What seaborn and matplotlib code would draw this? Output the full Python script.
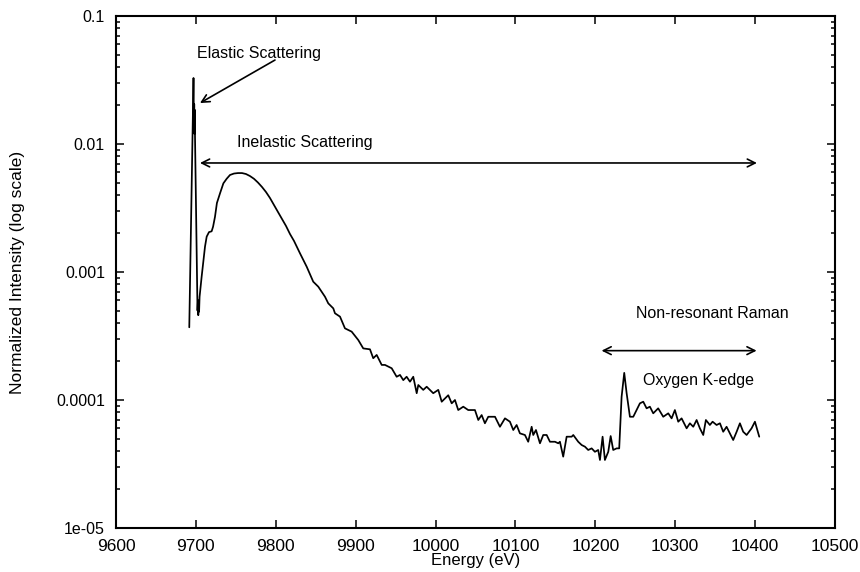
import matplotlib
matplotlib.use("Agg")
import matplotlib.pyplot as plt
import matplotlib.ticker as mticker
import numpy as np
import pandas as pd
import seaborn as sns

# Emission spectrum: energy (eV) and normalized intensity
energy = [
    9691.7, 9697.0, 9697.3, 9697.6, 9697.9, 9698.2, 9698.5, 9698.8,
    9702.0, 9702.5, 9703.0, 9703.5, 9704.0, 9704.6,
    9707.2, 9711.4, 9713.5, 9716.4, 9719.7, 9721.5, 9723.9, 9726.3,
    9730.2, 9734.4, 9738.5, 9742.7, 9747.7, 9752.7, 9757.7, 9762.7,
    9767.7, 9772.7, 9777.7, 9782.7, 9787.7, 9792.7, 9797.8, 9802.8,
    9807.8, 9812.8, 9817.8, 9822.8, 9827.8,
    9830.3, 9838.7, 9846.9, 9853.2, 9861.6, 9865.7, 9872.0, 9874.1,
    9880.4, 9886.6, 9895.0, 9903.3, 9909.5, 9917.9, 9922.0, 9926.3,
    9932.6, 9936.7, 9945.1, 9951.3, 9955.5, 9959.6, 9963.8, 9968.0,
    9972.1, 9976.4, 9978.4, 9984.6, 9988.9, 9997.1, 10003.4, 10007.7,
    10015.9, 10020.2, 10024.3, 10028.4, 10034.7, 10040.9, 10049.3, 10053.5,
    10057.7, 10061.8, 10066.0, 10074.4, 10080.6, 10086.9, 10093.1, 10097.3,
    10101.5, 10105.6, 10111.9, 10116.0, 10120.3, 10122.3, 10125.7, 10130.7,
    10134.8, 10139.1, 10143.2, 10149.5, 10153.6, 10155.7, 10159.8, 10164.1,
    10170.4, 10172.4, 10178.6, 10182.9, 10187.0, 10191.1, 10195.4, 10199.5,
    10203.6, 10205.8, 10209.1, 10212.0, 10216.2, 10219.2, 10222.4, 10226.7,
    10229.9, 10232.9, 10236.2, 10239.2, 10243.3, 10247.5, 10251.7, 10255.8,
    10260.0, 10264.2, 10268.3, 10272.5, 10278.7, 10285.0, 10291.3, 10295.5,
    10299.6, 10303.8, 10308.0, 10314.3, 10318.4, 10322.6, 10326.8, 10330.9,
    10335.1, 10338.4, 10343.4, 10346.8, 10351.8, 10356.0, 10360.1, 10364.3,
    10368.5, 10372.6, 10376.9, 10381.0, 10385.1, 10389.4, 10395.6, 10399.8,
    10405.2,
]
intensity = [
    3.70e-4, 3.28e-2, 1.95e-2, 1.30e-2, 2.05e-2, 1.20e-2, 1.85e-2, 1.25e-2,
    5.00e-4, 5.90e-4, 4.60e-4, 6.00e-4, 4.90e-4, 6.40e-4,
    9.20e-4, 1.58e-3, 1.89e-3, 2.05e-3, 2.08e-3, 2.26e-3, 2.70e-3, 3.46e-3,
    4.12e-3, 4.93e-3, 5.35e-3, 5.73e-3, 5.88e-3, 5.93e-3, 5.93e-3, 5.83e-3,
    5.62e-3, 5.35e-3, 5.00e-3, 4.62e-3, 4.22e-3, 3.79e-3, 3.34e-3, 2.94e-3,
    2.59e-3, 2.29e-3, 1.98e-3, 1.75e-3, 1.51e-3,
    1.40e-3, 1.10e-3, 8.40e-4, 7.68e-4, 6.41e-4, 5.69e-4, 5.20e-4, 4.76e-4,
    4.48e-4, 3.63e-4, 3.42e-4, 2.94e-4, 2.53e-4, 2.49e-4, 2.12e-4, 2.25e-4,
    1.88e-4, 1.88e-4, 1.77e-4, 1.52e-4, 1.57e-4, 1.43e-4, 1.52e-4, 1.39e-4,
    1.52e-4, 1.13e-4, 1.31e-4, 1.20e-4, 1.27e-4, 1.13e-4, 1.20e-4, 9.70e-5,
    1.09e-4, 9.42e-5, 1.00e-4, 8.35e-5, 8.87e-5, 8.35e-5, 8.35e-5, 6.98e-5,
    7.63e-5, 6.58e-5, 7.40e-5, 7.40e-5, 6.18e-5, 7.19e-5, 6.77e-5, 5.83e-5,
    6.38e-5, 5.49e-5, 5.33e-5, 4.72e-5, 6.18e-5, 5.33e-5, 5.83e-5, 4.59e-5,
    5.33e-5, 5.33e-5, 4.72e-5, 4.72e-5, 4.59e-5, 4.72e-5, 3.61e-5, 5.17e-5,
    5.17e-5, 5.33e-5, 4.72e-5, 4.45e-5, 4.32e-5, 4.07e-5, 4.19e-5, 3.94e-5,
    4.07e-5, 3.40e-5, 5.17e-5, 3.40e-5, 3.94e-5, 5.23e-5, 4.07e-5, 4.19e-5,
    4.19e-5, 1.06e-4, 1.63e-4, 1.13e-4, 7.40e-5, 7.40e-5, 8.35e-5, 9.42e-5,
    9.70e-5, 8.61e-5, 8.87e-5, 7.87e-5, 8.61e-5, 7.40e-5, 7.87e-5, 7.19e-5,
    8.35e-5, 6.77e-5, 7.19e-5, 6.01e-5, 6.58e-5, 6.18e-5, 6.98e-5, 6.01e-5,
    5.33e-5, 6.98e-5, 6.38e-5, 6.77e-5, 6.38e-5, 6.58e-5, 5.65e-5, 6.18e-5,
    5.49e-5, 4.87e-5, 5.65e-5, 6.58e-5, 5.65e-5, 5.33e-5, 6.01e-5, 6.77e-5,
    5.17e-5,
]

x_ticks = [9600, 9700, 9800, 9900, 10000, 10100, 10200, 10300, 10400, 10500]
y_ticks = [1e-5, 1e-4, 1e-3, 1e-2, 1e-1]
y_tick_labels = ["1e-05", "0.0001", "0.001", "0.01", "0.1"]

sns.set_theme(style="ticks")
plt.rcParams["font.family"] = ["Liberation Sans", "DejaVu Sans"]
plt.rcParams.update({
    "text.color": "black",
    "axes.labelcolor": "black",
    "xtick.color": "black",
    "ytick.color": "black",
})

fig = plt.figure(figsize=(8.6, 5.72), dpi=100)
ax = fig.add_axes([0.1349, 0.0769, 0.8360, 0.8951])

df = pd.DataFrame({"Energy": energy, "Intensity": intensity})
sns.lineplot(data=df, x="Energy", y="Intensity", ax=ax, sort=False,
             estimator=None, color="black", linewidth=1.25)

ax.set_yscale("log")
ax.set_xlim(9600, 10500)
ax.set_ylim(1e-5, 0.1)
ax.set_xticks(x_ticks)
ax.set_xticklabels([str(t) for t in x_ticks])
ax.set_yticks(y_ticks)
ax.set_yticklabels(y_tick_labels)
ax.xaxis.set_minor_locator(mticker.NullLocator())
ax.yaxis.set_minor_locator(mticker.LogLocator(base=10, subs=np.arange(2, 10)))
ax.yaxis.set_minor_formatter(mticker.NullFormatter())

ax.tick_params(which="both", direction="in", top=True, right=True,
               colors="black", width=1.1)
ax.tick_params(which="major", length=6)
ax.tick_params(which="minor", length=3)
ax.tick_params(axis="x", labelsize=12.5, pad=8)
ax.tick_params(axis="y", labelsize=11.5, pad=8)
for sp in ax.spines.values():
    sp.set_linewidth(1.5)
    sp.set_color("black")

ax.set_xlabel("Energy (eV)", fontsize=12, labelpad=-1)
ax.set_ylabel("Normalized Intensity (log scale)", fontsize=12.5, labelpad=22)

# Annotations
arrow_kw = dict(color="black", lw=1.2, shrinkA=0, shrinkB=0, mutation_scale=14)
ax.annotate("", xy=(9705.1, 0.0209), xytext=(9799.0, 0.0453),
            arrowprops=dict(arrowstyle="->", **arrow_kw))
ax.text(9700.9, 0.0505, "Elastic Scattering", fontsize=11.5, va="center", ha="left")

ax.annotate("", xy=(9705.1, 7.11e-3), xytext=(10402.3, 7.11e-3),
            arrowprops=dict(arrowstyle="<->", **arrow_kw))
ax.text(9751.0, 0.0102, "Inelastic Scattering", fontsize=11.5, va="center", ha="left")

ax.annotate("", xy=(10207.8, 2.43e-4), xytext=(10401.9, 2.43e-4),
            arrowprops=dict(arrowstyle="<->", **arrow_kw))
ax.text(10250.8, 4.76e-4, "Non-resonant Raman", fontsize=11.5, va="center", ha="left")
ax.text(10259.2, 1.43e-4, "Oxygen K-edge", fontsize=11.5, va="center", ha="left")

fig.savefig("out.png", dpi=100, facecolor="white")
